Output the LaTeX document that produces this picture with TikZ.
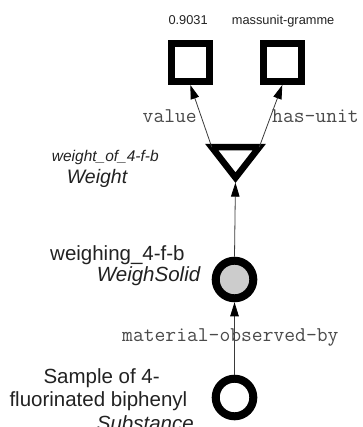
\documentclass[tikz,border=0pt]{standalone}
\usepackage{fontspec}
\setmainfont{Liberation Sans}
\usetikzlibrary{shapes.geometric,arrows.meta}
\definecolor{txt}{HTML}{222222}
\definecolor{monotxt}{HTML}{4A4A4A}
\definecolor{edgecol}{HTML}{3A3A3A}
\definecolor{fillgray}{HTML}{CCCCCC}
\begin{document}
\begin{tikzpicture}[x=1pt,y=-1pt,
  sqbox/.style={rectangle, draw=black, line width=7pt, minimum size=38pt, inner sep=0pt, fill=white},
  circbox/.style={circle, draw=black, line width=8pt, minimum size=37.6pt, inner sep=0pt},
  tribox/.style={isosceles triangle, isosceles triangle stretches, shape border rotate=270,
     minimum width=47.5pt, minimum height=30.5pt, draw=black, line width=6.5pt, inner sep=0pt, outer sep=0pt, fill=white},
  arr/.style={draw=edgecol, line width=0.8pt, -{Triangle[width=8.5pt,length=14pt,color=black]}},
  lbl/.style={text=txt, inner sep=0pt, font=\fontsize{20.5}{23.4}\selectfont},
  ilbl/.style={text=txt, inner sep=0pt, font=\fontsize{20.5}{23.4}\selectfont\itshape},
  slbl/.style={text=txt, inner sep=0pt, font=\fontsize{12.8}{15}\selectfont},
  mlbl/.style={text=monotxt, inner sep=0pt, font=\ttfamily\fontsize{21}{23}\selectfont}
]
\useasboundingbox (0,0) rectangle (362,427);

% nodes
\node[sqbox] (sqL) at (190.3,62.5) {};
\node[sqbox] (sqR) at (282.3,62.5) {};
\node[tribox] (tri) at (235.5,158.75) {};
\node[circbox, fill=fillgray] (c1) at (234.5,279.5) {};
\node[circbox, fill=white] (c2) at (234.5,397.5) {};

% connectors
\draw[arr] (tri.right corner) -- (sqL.south);
\draw[arr] (tri.left corner) -- (sqR.south);
\draw[arr, shorten >=5pt] (c1.north) -- (tri.apex);
\draw[arr] (c2.north) -- (c1.south);

% labels
\node[slbl, anchor=base west] (tval) at (168.3,25) {0.9031};
\node[slbl, anchor=base west] (tunit) at (231.7,25) {massunit-gramme};
\node[mlbl, anchor=base east] (evalue) at (197,122.7) {value};
\node[mlbl, anchor=base west] (eunit) at (272,122.7) {has-unit};
\node[ilbl, anchor=base west, font=\fontsize{15.5}{18}\selectfont\itshape] (tw1) at (51.7,161.7) {weight\_of\_4-f-b};
\node[ilbl, anchor=base west, font=\fontsize{19.5}{22}\selectfont\itshape] (tw2) at (66.7,183.3) {Weight};
\node[lbl, anchor=base west] (tws1) at (50,260) {weighing\_4-f-b};
\node[ilbl, anchor=base west] (tws2) at (96.7,281) {WeighSolid};
\node[mlbl, anchor=base west] (emat) at (122,341) {material-observed-by};
\node[lbl, anchor=base west] (ts1) at (43.3,383.3) {Sample of 4-};
\node[lbl, anchor=base west] (ts2) at (9.3,406.7) {fluorinated biphenyl};
\node[ilbl, anchor=base west] (ts3) at (96.7,430) {Substance};
\end{tikzpicture}
\end{document}
